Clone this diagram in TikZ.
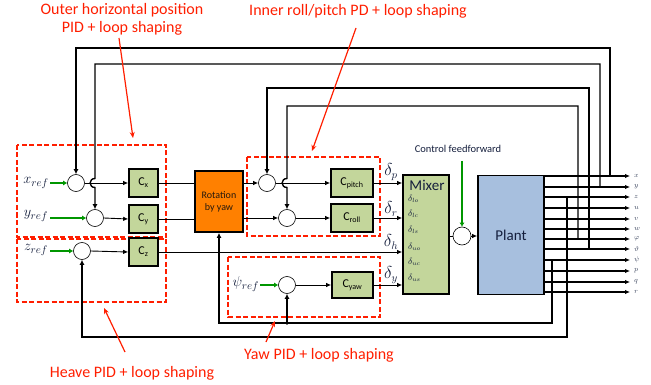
\documentclass[tikz,border=0pt]{standalone}
\usepackage{fontspec}
\setmainfont{Carlito}
\usetikzlibrary{arrows.meta}
\definecolor{boxgreen}{RGB}{195,214,155}
\definecolor{plantblue}{RGB}{167,191,222}
\definecolor{rotorange}{RGB}{255,128,0}
\definecolor{annred}{RGB}{255,30,0}
\definecolor{refgreen}{RGB}{0,150,0}
\definecolor{navyc}{RGB}{20,30,60}
\definecolor{outgray}{RGB}{60,70,95}
\begin{document}
\begin{tikzpicture}[x=1pt,y=-1pt,
  ctrl/.style={draw, line width=1.6pt, fill=boxgreen, inner sep=0pt, font=\fontsize{12}{12}\selectfont},
  sum/.style={circle, draw, line width=0.6pt, fill=white, minimum size=17pt, inner sep=0pt},
  sig/.style={line width=0.9pt, -{Latex[length=5pt,width=4.5pt]}},
  wire/.style={line width=0.9pt},
  fb/.style={line width=1.4pt},
  fba/.style={line width=1.4pt, -{Latex[length=5pt,width=5pt]}},
  outar/.style={line width=1.1pt, -{Latex[length=5pt,width=4.5pt]}},
  refar/.style={draw=refgreen, line width=1.8pt, -{Latex[length=4pt,width=5pt]}},
  redbox/.style={draw=annred, line width=1.4pt, dash pattern=on 5pt off 2.5pt},
  note/.style={text=annred, font=\fontsize{16}{18}\selectfont, align=center},
  notear/.style={draw=annred, line width=1.2pt, -{Stealth[length=6pt,width=5pt]}},
  dl/.style={font=\fontsize{15}{15}\selectfont, text=navyc},
  dsig/.style={font=\fontsize{16}{16}\selectfont, text=navyc},
  outl/.style={font=\fontsize{7}{7}\selectfont, text=outgray, anchor=west, inner sep=0pt},
  mixl/.style={font=\fontsize{9}{9}\selectfont, text=navyc, anchor=west, inner sep=0pt},
]
\useasboundingbox (0,0) rectangle (651,385);

% red dashed group boxes
\draw[redbox] (17,145) rectangle (166,237);
\draw[redbox] (17,239) rectangle (166,302);
\draw[redbox] (247,157) rectangle (380,236);
\draw[redbox] (228,257) rectangle (380,317);

% summing junctions
\node[sum] (sx) at (76,183) {};
\node[sum] (sy) at (95,218) {};
\node[sum] (sz) at (82,251) {};
\node[sum] (sp) at (267,183) {};
\node[sum] (sr) at (287,218) {};
\node[sum] (spsi) at (287,285) {};
\node[sum, minimum size=18pt] (sf) at (462,236) {};

% controllers
\node[ctrl, minimum width=29pt, minimum height=28pt] (cx) at (143.5,183) {C\textsubscript{x}};
\node[ctrl, minimum width=29pt, minimum height=28pt] (cy) at (143.5,219) {C\textsubscript{y}};
\node[ctrl, minimum width=29pt, minimum height=28pt] (cz) at (143.5,252) {C\textsubscript{z}};
\node[ctrl, minimum width=42pt, minimum height=28pt] (cp) at (352,183) {C\textsubscript{pitch}};
\node[ctrl, minimum width=42pt, minimum height=28pt] (cr) at (352,218) {C\textsubscript{roll}};
\node[ctrl, minimum width=41pt, minimum height=26pt] (cyaw) at (352.5,285) {C\textsubscript{yaw}};

% rotation, mixer, plant
\node[draw, line width=1.8pt, fill=rotorange, minimum width=48pt, minimum height=61pt, align=center,
      font=\fontsize{10}{12}\selectfont, text=black!80!brown] (rot) at (219,201.5) {Rotation\\by yaw};
\node[draw, line width=1.6pt, fill=boxgreen, minimum width=46pt, minimum height=119pt] (mix) at (426,234.5) {};
\node[font=\fontsize{15}{15}\selectfont, text=navyc] (mixlbl) at (427,185) {Mixer};
\node[mixl] (m1) at (408,199) {$\delta_{lo}$};
\node[mixl] (m2) at (408,214) {$\delta_{lc}$};
\node[mixl] (m3) at (408,230) {$\delta_{ls}$};
\node[mixl] (m4) at (408,247) {$\delta_{uo}$};
\node[mixl] (m5) at (408,262) {$\delta_{uc}$};
\node[mixl] (m6) at (408,278) {$\delta_{us}$};
\node[draw, line width=1.6pt, fill=plantblue, minimum width=66pt, minimum height=119pt,
      font=\fontsize{15}{15}\selectfont, text=navyc] (plant) at (511,235) {Plant};

% reference inputs
\node[dl] (xref) at (36,183) {$x_{ref}$};
\node[dl] (yref) at (36,216) {$y_{ref}$};
\node[dl] (zref) at (36,250) {$z_{ref}$};
\node[dl] (psiref) at (246,284) {$\psi_{ref}$};
\coordinate (gx) at (50,183);
\coordinate (gy) at (50,218);
\coordinate (gz) at (50,251);
\coordinate (gpsi) at (260,285);
\draw[refar] (gx) -- (sx.west);
\draw[refar] (gy) -- (sy.west);
\draw[refar] (gz) -- (sz.west);
\draw[refar] (gpsi) -- (spsi.west);
\node[font=\fontsize{10.5}{12}\selectfont, text=navyc] (cff) at (458,149) {Control feedforward};
\coordinate (gff) at (462,161);
\draw[refar] (gff) -- (sf.north);

% forward signals
\draw[sig] (sx.east) -- (cx.west);
\draw[sig] (sy.east) -- (cy.west);
\draw[sig] (sz.east) -- (cz.west);
\draw[wire] (cx.east) -- (cx.east -| rot.west);
\draw[wire] (cy.east) -- (cy.east -| rot.west);
\draw[sig] (rot.east |- sp) -- (sp.west);
\draw[sig] (rot.east |- sr) -- (sr.west);
\draw[sig] (sp.east) -- (cp.west);
\draw[sig] (sr.east) -- (cr.west);
\draw[sig] (spsi.east) -- (cyaw.west);
\draw[sig] (cp.east) -- (cp.east -| mix.west);
\draw[sig] (cr.east) -- (cr.east -| mix.west);
\draw[sig] (cz.east) -- (cz.east -| mix.west);
\draw[sig] (cyaw.east) -- (cyaw.east -| mix.west);
\node[dsig] (dp) at (391,172) {$\delta_p$};
\node[dsig] (dr) at (391,209) {$\delta_r$};
\node[dsig] (dh) at (391,242) {$\delta_h$};
\node[dsig] (dy) at (391,275) {$\delta_y$};
\draw[wire] (mix.east |- sf) -- (sf.west);
\draw[sig] (sf.east) -- (sf.east -| plant.west);

% plant outputs
\foreach \yy/\lab/\nm in {176/x/ox,187/y/oy,197/z/oz,208/u/ou,219/v/ov,229/w/ow,239/\varphi/ophi,249/\vartheta/oth,260/\psi/opsi,271/p/op,282/q/oq,292/r/or}{
  \coordinate (\nm) at (544,\yy);
  \coordinate (\nm e) at (630,\yy);
  \draw[outar] (\nm) -- (\nm e);
  \node[outl] at (634,\yy) {$\lab$};
}

% feedback loops
\draw[fba] (ox -| 610,0) -- (610,48) -- (76,48) -- (sx.north);
\draw[fba] (oy -| 600,0) -- (600,64) -- (95,64) -- (95,178.5)
   .. controls (88.5,178.5) and (88.5,187.5) .. (95,187.5) -- (sy.north);
\draw[fba] (oth -| 589,0) -- (589,88) -- (267,88) -- (sp.north);
\draw[fba] (ophi -| 578,0) -- (578,106) -- (287,106) -- (287,178.5)
   .. controls (280.5,178.5) and (280.5,187.5) .. (287,187.5) -- (sr.north);
\draw[fba] (opsi -| 552,0) -- (552,323) -- (219,323) -- (rot.south);
\coordinate (jpsi) at (287,323);
\draw[fba] (jpsi) -- (spsi.south);
\fill (jpsi) circle (1.8pt);
\draw[fba] (oz -| 567,0) -- (567,337) -- (82,337) -- (sz.south);

% annotations
\node[note] (n1) at (122,19) {Outer horizontal position\\PID + loop shaping};
\node[note] (n2) at (358,11) {Inner roll/pitch PD + loop shaping};
\node[note] (n3) at (132,373) {Heave PID + loop shaping};
\node[note] (n4) at (319,355) {Yaw PID + loop shaping};
\draw[notear] (119,38) -- (133,138);
\draw[notear] (356,28) -- (312,151);
\draw[notear] (125,352) -- (104,308);
\draw[notear] (266,342) -- (275,321);
\end{tikzpicture}
\end{document}
